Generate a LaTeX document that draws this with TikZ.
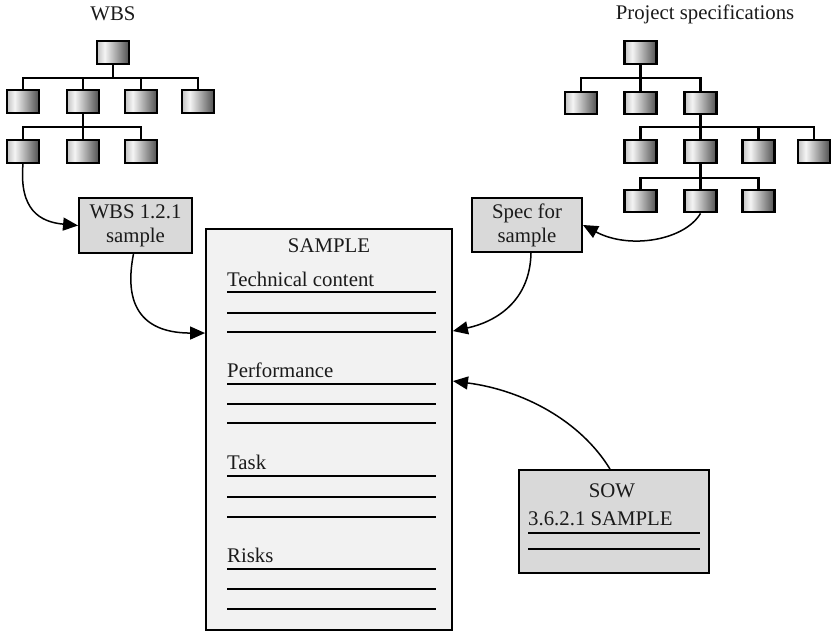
\documentclass[tikz,border=0pt]{standalone}
\usepackage{fontspec}
\setmainfont{Liberation Serif}
\usetikzlibrary{arrows.meta,calc}
\definecolor{tl}{HTML}{C2C2C2}
\definecolor{tm}{HTML}{F4F4F4}
\definecolor{tr}{HTML}{505050}
\definecolor{boxgray}{HTML}{D9D9D9}
\definecolor{pagegray}{HTML}{F2F2F2}
\definecolor{ink}{HTML}{1A1A1A}
\pgfdeclarehorizontalshading{treeshade}{100bp}{color(0bp)=(tl); color(25bp)=(tl); color(37bp)=(tm); color(75bp)=(tr); color(100bp)=(tr)}
\begin{document}
\begin{tikzpicture}[x=1pt,y=-1pt,
  every node/.style={font=\fontsize{20.8}{24}\selectfont, text=ink},
  treebox/.style={draw, line width=2.3pt, shading=treeshade, minimum width=32pt, minimum height=22.5pt, inner sep=0pt},
  conn/.style={line width=2.3pt},
  smallbox/.style={draw, line width=2.4pt, fill=boxgray, inner sep=0pt, align=center},
  bigbox/.style={draw, line width=2.4pt, fill=pagegray, inner sep=0pt},
  txt/.style={inner sep=0pt},
  rule/.style={line width=2.2pt},
  arr/.style={line width=1.5pt, -{Triangle[length=15pt,width=13pt]}}]
\useasboundingbox (0,0) rectangle (831,633);

% ---------- labels ----------
\node[txt, anchor=base] (wbslabel) at (113,20) {WBS};
\node[txt, anchor=base] (speclabel) at (705,19) {Project specifications};

% ---------- WBS tree ----------
\node[treebox] (w0) at (113,52.5) {};
\node[treebox] (w1) at (23,101.5) {};
\node[treebox] (w2) at (83,101.5) {};
\node[treebox] (w3) at (141,101.5) {};
\node[treebox] (w4) at (198,101.5) {};
\node[treebox] (w21) at (23,151.5) {};
\node[treebox] (w22) at (83,151.5) {};
\node[treebox] (w23) at (141,151.5) {};
\coordinate (wbar1) at (0,78);
\coordinate (wbar2) at (0,127);
\foreach \c in {w1,w2,w3,w4} \draw[conn] (w0.south) -- (w0.south |- wbar1) -| (\c.north);
\foreach \c in {w21,w22,w23} \draw[conn] (w2.south) -- (w2.south |- wbar2) -| (\c.north);

% ---------- Spec tree ----------
\node[treebox] (s0) at (640.5,52.5) {};
\node[treebox] (s1) at (581,103) {};
\node[treebox] (s2) at (640.5,103) {};
\node[treebox] (s3) at (700.5,103) {};
\node[treebox] (s31) at (640.5,151.5) {};
\node[treebox] (s32) at (700.5,151.5) {};
\node[treebox] (s33) at (758.5,151.5) {};
\node[treebox] (s34) at (814,151.5) {};
\node[treebox] (s321) at (640.5,201) {};
\node[treebox] (s322) at (700.5,201) {};
\node[treebox] (s323) at (758.5,201) {};
\coordinate (sbar1) at (0,78);
\coordinate (sbar2) at (0,127);
\coordinate (sbar3) at (0,178);
\foreach \c in {s1,s2,s3} \draw[conn] (s0.south) -- (s0.south |- sbar1) -| (\c.north);
\foreach \c in {s31,s32,s33,s34} \draw[conn] (s3.south) -- (s3.south |- sbar2) -| (\c.north);
\foreach \c in {s321,s322,s323} \draw[conn] (s32.south) -- (s32.south |- sbar3) -| (\c.north);

% ---------- small boxes ----------
\node[smallbox, minimum width=112.5pt, minimum height=54.5pt] (wbsbox) at (135.5,225.5) {WBS 1.2.1\\sample};
\node[smallbox, minimum width=109.5pt, minimum height=53.5pt] (specbox) at (527,225) {Spec for\\sample};

% ---------- SAMPLE page ----------
\node[bigbox, minimum width=245.5pt, minimum height=400.5pt] (sample) at (329,429.5) {};
\node[txt, anchor=base] (stitle) at (329,252) {SAMPLE};
\node[txt, anchor=base west] (tech) at (227,286) {Technical content};
\node[txt, anchor=base west] (perf) at (227,377.5) {Performance};
\node[txt, anchor=base west] (task) at (227,469.5) {Task};
\node[txt, anchor=base west] (risks) at (227,562) {Risks};
\foreach \y in {292,313,332,384,404,423,476,497,517,569,589,609}
  \draw[rule] (227,\y) -- (436,\y);

% ---------- SOW ----------
\node[smallbox, minimum width=189.5pt, minimum height=102.5pt] (sow) at (614,521.5) {};
\node[txt, anchor=base] (sowtitle) at (612,497) {SOW};
\node[txt, anchor=base west] (sowsub) at (528,525) {3.6.2.1 SAMPLE};
\foreach \y in {533,549}
  \draw[rule] (528,\y) -- (700,\y);

% ---------- arrows ----------
\draw[arr] (w21.south) .. controls (19,210) and (40,222) .. (wbsbox.west);
\draw[arr] ($(wbsbox.south)+(-2,0)$) .. controls (120,322) and (160,333) .. ($(sample.north west)+(0,105)$);
\draw[arr] (s322.south) .. controls (685,240) and (630,250) .. (specbox.east);
\draw[arr] ($(specbox.south)+(4,0)$) .. controls (530,302) and (495,322) .. ($(sample.north east)+(0,103)$);
\draw[arr] ($(sow.north)+(-4,0)$) .. controls (580,420) and (522,390) .. ($(sample.north east)+(0,153)$);
\end{tikzpicture}
\end{document}
